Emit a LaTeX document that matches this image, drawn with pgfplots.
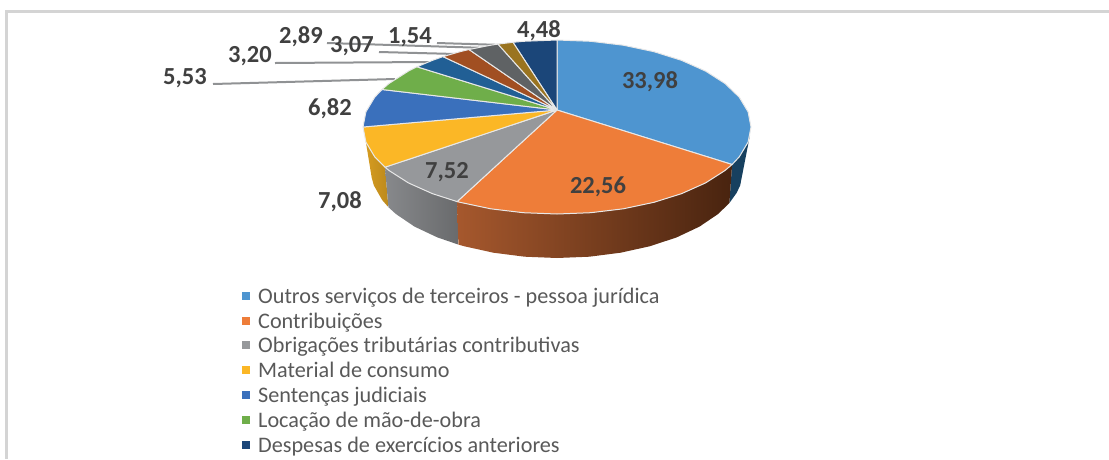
\documentclass[border=0pt]{standalone}
\usepackage{fontspec}
\setmainfont{Carlito}
\usepackage{pgfplots}
\usepackage{pgfplotstable}
\pgfplotsset{compat=1.18}
\definecolor{cBlue}{HTML}{4E95D0}
\definecolor{cOrange}{HTML}{EE7D39}
\definecolor{cGray}{HTML}{96989B}
\definecolor{cYellow}{HTML}{FBB726}
\definecolor{cBlueB}{HTML}{3A70BC}
\definecolor{cGreen}{HTML}{6FAE4A}
\definecolor{cDkBlue}{HTML}{215F95}
\definecolor{cBrown}{HTML}{A14F22}
\definecolor{cDkGray}{HTML}{5F6264}
\definecolor{cOlive}{HTML}{9A7420}
\definecolor{cNavy}{HTML}{1B4679}
\definecolor{cNavySide}{HTML}{17405F}
\definecolor{cLead}{HTML}{909294}
\definecolor{cText}{HTML}{404040}
\definecolor{cEdge}{HTML}{E8E8E8}
\pgfplotstableread{
x y lab
650 82 33,98
598 187 22,56
447 172 7,52
340 202 7,08
330 109 6,82
185 78 5,53
250 56 3,20
301 37 2,89
352 46 3,07
410 37 1,54
539 31 4,48
}\pielabels
\begin{document}
\begin{tikzpicture}
\begin{axis}[
  scale only axis, width=1109pt, height=459pt,
  xmin=0, xmax=1109, ymin=0, ymax=459, y dir=reverse,
  axis lines=none,
  legend style={at={(axis cs:239,286)}, anchor=north west, draw=none, fill=none,
    font=\fontsize{22.2}{24}\selectfont, text=black!65, row sep=5.8pt,
    nodes={text height=15pt, text depth=4pt, inner sep=0pt}},
  legend cell align=left,
  legend image code/.code={\fill[#1,draw=none] (0pt,-2pt) rectangle (8pt,6pt);\path[draw=none,fill=none] (0pt,0pt) -- (16pt,0pt);},
  wedge/.style={draw=cEdge, line width=1pt, line join=round},
]
% frame
\addplot[forget plot, draw=black!17, line width=3pt] coordinates {(1109,11) (6,11) (6,459)};
% leader lines
\addplot[forget plot, draw=cLead, line width=2pt] coordinates {(213,84) (395,79)};
\addplot[forget plot, draw=cLead, line width=2pt] coordinates {(275,63) (430,62)};
\addplot[forget plot, draw=cLead, line width=2pt] coordinates {(379,52) (456,54)};
\addplot[forget plot, draw=cLead, line width=2pt] coordinates {(327,43) (487,48)};
\addplot[forget plot, draw=cLead, line width=2pt] coordinates {(437,43) (503,45)};
% pie sides
\addplot[forget plot, draw=none, fill=cNavySide] coordinates {
  (750,135) (748.1,142.1) (739.3,156.8) (732.1,164.5)
  (729.4,203) (736.7,192.8) (740.2,185.3)} -- cycle;
\addplot[forget plot, draw=none, left color=cYellow!85!black, right color=cYellow!75!black] coordinates {
  (385,167.2) (374.7,156.8) (365.9,142.1)
  (371.7,177.7) (373.8,185.3) (382.2,200.1) (388.4,207.2)} -- cycle;
\addplot[forget plot, draw=none, left color=cGray!90!black, right color=cGray!70!black] coordinates {
  (457.1,201.6) (432.3,193.6) (408.4,182.9) (389,170.5) (385,167.2)
  (388.4,207.2) (395.9,214) (414.5,226.6) (437.4,237.4) (458.4,244.6)} -- cycle;
\addplot[forget plot, draw=none, left color=cBrown!95!white, middle color=cBrown!65!black, right color=cBrown!45!black] coordinates {
  (732.1,164.5) (725,170.5) (705.6,182.9) (681.7,193.6) (654,202.3) (623.3,208.8) (590.7,212.7) (557,214)
  (523.3,212.7) (490.7,208.8) (460,202.3) (457.1,201.6)
  (458.4,244.6) (464,246.2) (493.4,252.7) (524.7,256.7) (557,258) (589.3,256.7) (620.6,252.7)
  (650,246.2) (676.6,237.4) (699.5,226.6) (718.1,214) (729.4,203)} -- cycle;
% pie top, clockwise from twelve o'clock
\addplot[wedge, fill=cBlue] coordinates {
  (557,110) (557,40) (590.7,41.3) (623.3,45.2) (654,51.7) (681.7,60.4) (705.6,71.1) (725,83.5) (739.3,97.2)
  (748.1,111.9) (751,127) (748.1,142.1) (739.3,156.8) (732.1,164.5)} -- cycle;
\addlegendentry{Outros serviços de terceiros - pessoa jurídica}
\addplot[wedge, fill=cOrange] coordinates {
  (557,110) (732.1,164.5) (725,170.5) (705.6,182.9) (681.7,193.6) (654,202.3) (623.3,208.8) (590.7,212.7) (557,214)
  (523.3,212.7) (490.7,208.8) (460,202.3) (457.1,201.6)} -- cycle;
\addlegendentry{Contribuições}
\addplot[wedge, fill=cGray] coordinates {
  (557,110) (457.1,201.6) (432.3,193.6) (408.4,182.9) (389,170.5) (385,167.2)} -- cycle;
\addlegendentry{Obrigações tributárias contributivas}
\addplot[wedge, fill=cYellow] coordinates {
  (557,110) (385,167.2) (374.7,156.8) (365.9,142.1) (363,127)} -- cycle;
\addlegendentry{Material de consumo}
\addplot[wedge, fill=cBlueB] coordinates {
  (557,110) (363,127) (365.9,111.9) (374.7,97.2) (382,89.5)} -- cycle;
\addlegendentry{Sentenças judiciais}
\addplot[wedge, fill=cGreen] coordinates {
  (557,110) (382,89.5) (389,83.5) (408.4,71.1) (417,66.8)} -- cycle;
\addlegendentry{Locação de mão-de-obra}
\addplot[wedge, fill=cNavy] coordinates {
  (557,110) (513,42.3) (523.3,41.3) (557,40)} -- cycle;
\addlegendentry{Despesas de exercícios anteriores}
\addplot[forget plot, wedge, fill=cDkBlue] coordinates {
  (557,110) (417,66.8) (432.3,60.4) (443,56.6)} -- cycle;
\addplot[forget plot, wedge, fill=cBrown] coordinates {
  (557,110) (443,56.6) (460,51.7) (469,49.5)} -- cycle;
\addplot[forget plot, wedge, fill=cDkGray] coordinates {
  (557,110) (469,49.5) (490.7,45.2) (498,44.1)} -- cycle;
\addplot[forget plot, wedge, fill=cOlive] coordinates {
  (557,110) (498,44.1) (513,42.3)} -- cycle;
% value labels
\addplot[forget plot, only marks, mark=none, nodes near coords, point meta=explicit symbolic,
  nodes near coords style={anchor=center, inner sep=0pt, text=cText,
    font=\fontsize{24.5}{26}\selectfont\bfseries}]
  table[x=x, y=y, meta=lab] {\pielabels};
\end{axis}
\path (0,0) rectangle (1109pt,459pt);
\end{tikzpicture}
\end{document}
